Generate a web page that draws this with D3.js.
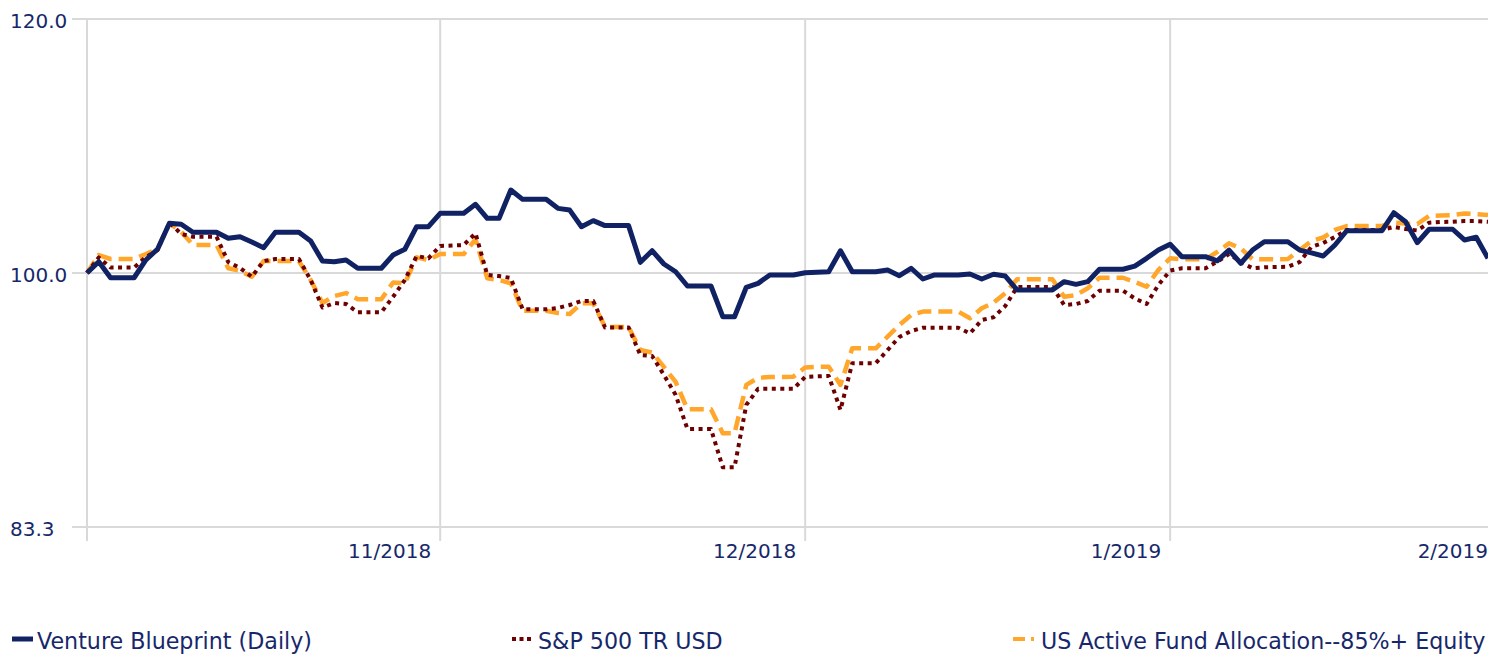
<!DOCTYPE html>
<html>
<head>
<meta charset="utf-8">
<title>Growth chart</title>
<script src="https://cdn.jsdelivr.net/npm/d3@7/dist/d3.min.js"></script>
<style>
    body { margin: 0; background: #fff; }
    svg { display: block; }
    .tick-label { font-family: "DejaVu Sans", Verdana, sans-serif; font-size: 20px; fill: #17286a; }
    .legend-label { font-family: "DejaVu Sans", Verdana, sans-serif; font-size: 22.2px; fill: #17286a; }
</style>
</head>
<body>
<svg id="chart" width="1488" height="654"></svg>
<script>
    // values, one point per day
    const blueprint = [
        100.00, 100.81, 99.66, 99.66, 99.66, 100.94, 101.74, 103.63, 103.56, 102.97,
        102.97, 102.97, 102.52, 102.64, 102.25, 101.83, 102.97, 102.97, 102.97, 102.32,
        100.86, 100.81, 100.94, 100.34, 100.34, 100.34, 101.30, 101.72, 103.38, 103.38,
        104.38, 104.38, 104.38, 105.05, 104.00, 104.00, 106.14, 105.43, 105.43, 105.43,
        104.75, 104.62, 103.38, 103.83, 103.46, 103.46, 103.46, 100.77, 101.61, 100.65,
        100.09, 99.07, 99.07, 99.07, 96.91, 96.91, 98.98, 99.26, 99.86, 99.86,
        99.86, 100.02, 100.06, 100.09, 101.61, 100.09, 100.09, 100.09, 100.22, 99.81,
        100.34, 99.57, 99.86, 99.86, 99.86, 99.93, 99.57, 99.91, 99.78, 98.79,
        98.79, 98.79, 98.79, 99.38, 99.19, 99.38, 100.27, 100.27, 100.27, 100.50,
        101.06, 101.66, 102.08, 101.18, 101.18, 101.18, 100.88, 101.66, 100.70, 101.66,
        102.27, 102.27, 102.27, 101.66, 101.45, 101.23, 102.03, 103.08, 103.08, 103.08,
        103.08, 104.42, 103.75, 102.20, 103.19, 103.19, 103.19, 102.40, 102.60, 101.06
    ];
    const sp500 = [
        100.00, 101.12, 100.39, 100.39, 100.39, 101.15, 101.66, 103.69, 102.84, 102.64,
        102.64, 102.64, 100.79, 100.36, 99.73, 100.86, 101.01, 101.01, 101.01, 99.50,
        97.55, 97.87, 97.80, 97.22, 97.22, 97.22, 98.31, 99.50, 101.23, 101.06,
        101.96, 101.99, 102.03, 102.89, 99.86, 99.78, 99.64, 97.43, 97.43, 97.43,
        97.52, 97.73, 98.01, 98.01, 96.17, 96.17, 96.17, 94.28, 94.22, 92.95,
        91.62, 89.41, 89.41, 89.41, 86.98, 86.98, 90.97, 92.02, 92.02, 92.02,
        92.02, 92.81, 92.85, 92.88, 90.64, 93.73, 93.73, 93.73, 94.62, 95.51,
        95.92, 96.15, 96.15, 96.15, 96.15, 95.76, 96.68, 96.87, 97.66, 99.00,
        99.00, 99.00, 99.00, 97.73, 97.80, 98.01, 98.74, 98.74, 98.74, 98.19,
        97.80, 99.14, 100.17, 100.34, 100.34, 100.34, 100.81, 101.37, 100.79, 100.34,
        100.41, 100.43, 100.45, 100.79, 101.89, 102.18, 102.62, 103.14, 103.14, 103.14,
        103.14, 103.36, 103.21, 103.10, 103.68, 103.73, 103.75, 103.80, 103.80, 103.75
    ];
    const activeFund = [
        100.00, 101.30, 101.01, 101.01, 101.01, 101.37, 101.74, 103.63, 103.01, 102.03,
        102.03, 102.03, 100.34, 100.17, 99.73, 100.86, 100.86, 100.86, 100.86, 99.50,
        97.87, 98.36, 98.57, 98.13, 98.13, 98.13, 99.32, 99.26, 101.13, 100.94,
        101.37, 101.37, 101.37, 102.45, 99.62, 99.50, 99.26, 97.33, 97.33, 97.33,
        97.17, 97.10, 97.85, 97.85, 96.20, 96.20, 96.20, 94.62, 94.45, 93.48,
        92.48, 90.69, 90.69, 90.69, 89.14, 89.14, 92.28, 92.75, 92.81, 92.81,
        92.83, 93.44, 93.48, 93.50, 92.28, 94.74, 94.74, 94.74, 95.53, 96.34,
        97.03, 97.27, 97.27, 97.27, 97.27, 96.80, 97.50, 97.89, 98.57, 99.55,
        99.55, 99.55, 99.55, 98.31, 98.43, 98.91, 99.66, 99.66, 99.66, 99.36,
        99.02, 100.22, 101.06, 100.99, 100.99, 100.99, 101.52, 102.15, 101.79, 100.99,
        100.99, 100.99, 101.01, 101.66, 102.32, 102.58, 103.14, 103.43, 103.43, 103.43,
        103.43, 103.68, 103.62, 103.58, 104.18, 104.21, 104.25, 104.36, 104.32, 104.25
    ];
    const seriesNames = ['Venture Blueprint (Daily)', 'S&P 500 TR USD', 'US Active Fund Allocation--85%+ Equity'];
    const yTicks = [100 / 1.2, 100, 120];
    const yTickLabels = ['83.3', '100.0', '120.0'];
    const xTickIndex = [30, 61, 92, 123];
    const xTickLabels = ['11/2018', '12/2018', '1/2019', '2/2019'];

    const svg = d3.select('#chart');
    const W = 1488;
    const plotLeft = 87, plotRight = 1488, plotTop = 19, plotBottom = 527;
    const grid = '#d9d9d9';

    const x = d3.scaleLinear().domain([0, blueprint.length - 1]).range([plotLeft, plotRight]);
    const y = d3.scaleLog().domain([100 / 1.2, 120]).range([plotBottom, plotTop]);

    // horizontal grid + y labels
    svg.selectAll('.hgrid').data(yTicks).join('line')
        .attr('class', 'hgrid')
        .attr('x1', plotLeft - 15).attr('x2', plotRight)
        .attr('y1', d => y(d)).attr('y2', d => y(d))
        .attr('stroke', grid).attr('stroke-width', 2);

    svg.selectAll('.ylab').data(yTicks).join('text')
        .attr('class', 'tick-label')
        .attr('x', 10)
        .attr('y', d => y(d) + 8.5)
        .text((d, i) => yTickLabels[i]);

    // vertical grid: left edge plus the month ticks
    const vLines = [0].concat(xTickIndex.filter(i => x(i) <= plotRight));
    svg.selectAll('.vgrid').data(vLines).join('line')
        .attr('class', 'vgrid')
        .attr('x1', d => x(d)).attr('x2', d => x(d))
        .attr('y1', plotTop).attr('y2', plotBottom + 14)
        .attr('stroke', grid).attr('stroke-width', 2);

    svg.selectAll('.xlab').data(xTickIndex).join('text')
        .attr('class', 'tick-label')
        .attr('text-anchor', 'end')
        .attr('x', d => Math.min(x(d) - 9, W))
        .attr('y', 558)
        .text((d, i) => xTickLabels[i]);

    const line = d3.line().x((d, i) => x(i)).y(d => y(d));

    const styles = [
        { data: blueprint, color: '#102263', width: 5, dash: null },
        { data: sp500, color: '#6e0000', width: 4, dash: '4,4.5' },
        { data: activeFund, color: '#ffa62b', width: 4.5, dash: '14,7' }
    ];

    // orange first, blue on top
    [2, 1, 0].forEach(k => {
        const s = styles[k];
        svg.append('path')
            .datum(s.data)
            .attr('d', line)
            .attr('fill', 'none')
            .attr('stroke', s.color)
            .attr('stroke-width', s.width)
            .attr('stroke-linejoin', 'round')
            .attr('stroke-dasharray', s.dash);
    });

    // legend
    const legendX = [12, 512, 1013];
    const legend = svg.selectAll('.legend').data(seriesNames).join('g')
        .attr('class', 'legend')
        .attr('transform', (d, i) => `translate(${legendX[i]},639)`);

    legend.append('line')
        .attr('x1', 0).attr('x2', (d, i) => i == 1 ? 19 : 21)
        .attr('y1', 0).attr('y2', 0)
        .attr('stroke', (d, i) => styles[i].color)
        .attr('stroke-width', (d, i) => i == 0 ? 5 : 4)
        .attr('stroke-dasharray', (d, i) => i == 1 ? '4,3.5' : (i == 2 ? '12,6' : null));

    legend.append('text')
        .attr('class', 'legend-label')
        .attr('x', (d, i) => i == 1 ? 26 : (i == 2 ? 28 : 25))
        .attr('y', 10)
        .text(d => d);
</script>
</body>
</html>
